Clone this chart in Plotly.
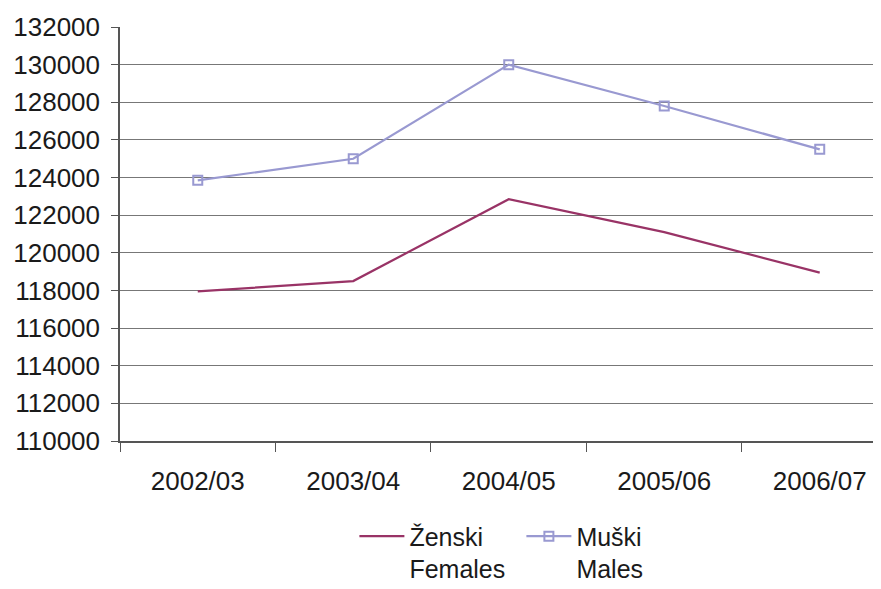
import plotly.graph_objects as go

years = ["2002/03", "2003/04", "2004/05", "2005/06", "2006/07"]
females = [117950, 118500, 122850, 121100, 118950]
males = [123850, 125000, 130000, 127800, 125500]
y_ticks = list(range(110000, 132001, 2000))

FONT = "Liberation Sans, Arial, sans-serif"

fig = go.Figure()
fig.add_trace(go.Scatter(
    x=years, y=females, mode="lines", name="Ženski<br>Females",
    line=dict(color="#993366", width=2.2),
))
fig.add_trace(go.Scatter(
    x=years, y=males, mode="lines+markers", name="Muški<br>Males",
    line=dict(color="#9999D1", width=2.2),
    marker=dict(symbol="square-open", size=9, color="#9999D1", line=dict(width=2, color="#9999D1")),
))

# page body has an 8px margin; offset the figure so the plot sits where it should
fig.update_layout(
    width=873, height=581,
    margin=dict(l=112, r=0, t=19, b=148, autoexpand=False),
    paper_bgcolor="white", plot_bgcolor="white",
    font=dict(family=FONT, size=26, color="#1a1a1a"),
    showlegend=True,
    legend=dict(orientation="h", x=0.308, xanchor="left", y=-0.175, yanchor="top",
                valign="top", font=dict(size=25), itemwidth=45,
                entrywidth=107, entrywidthmode="pixels",
                tracegroupgap=0, bgcolor="rgba(0,0,0,0)"),
    xaxis=dict(
        type="category", range=[-0.5, 4.394], automargin=False,
        showline=True, linecolor="#555555", linewidth=1.5,
        ticks="outside", tickson="boundaries", ticklen=9, tickcolor="#555555",
        showgrid=False, ticklabelstandoff=16,
    ),
    yaxis=dict(
        range=[110000, 132000], tickvals=y_ticks, automargin=False,
        ticktext=[str(v) for v in y_ticks],
        showline=True, linecolor="#555555", linewidth=1.5,
        ticks="outside", ticklen=7, tickcolor="#555555",
        showgrid=True, gridcolor="#777777", gridwidth=1,
        zeroline=False, ticklabelstandoff=6,
    ),
)

fig.write_html("out.html")
